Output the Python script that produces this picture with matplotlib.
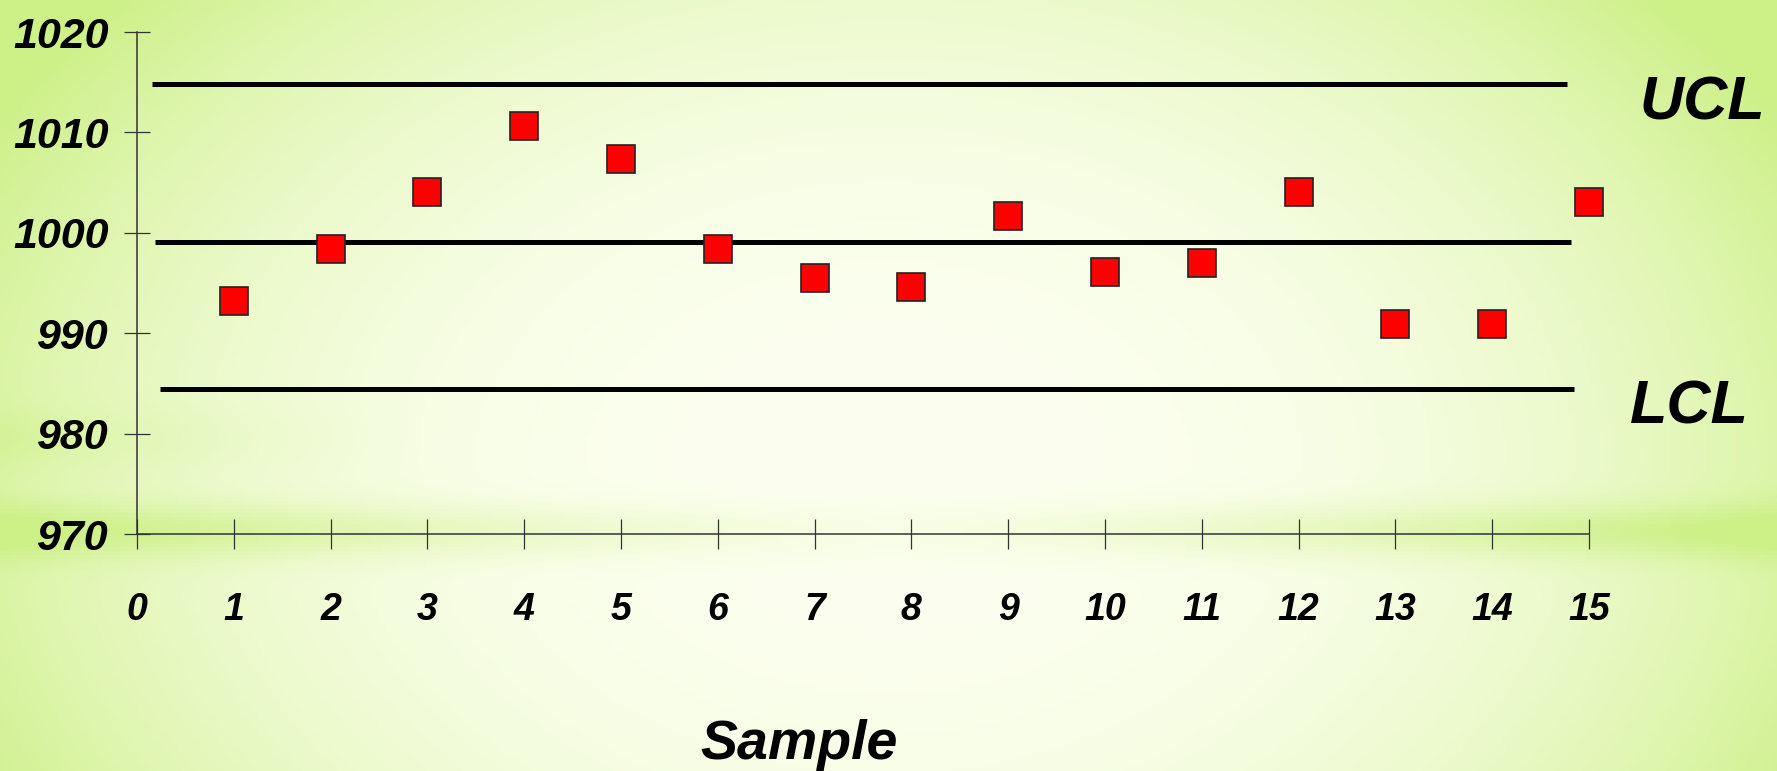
import matplotlib
matplotlib.use("Agg")
import matplotlib.pyplot as plt
import numpy as np

# sample means
samples = np.arange(1, 16)
means = [993.2, 998.4, 1004.1, 1010.6, 1007.4, 998.4, 995.5, 994.6,
         1001.7, 996.1, 997.0, 1004.1, 990.9, 990.9, 1003.1]
# control limits
ucl = 1014.8
cl = 999.1
lcl = 984.4
xticks = list(range(0, 16))
yticks = [970, 980, 990, 1000, 1010, 1020]

plt.rcParams['font.family'] = ['Liberation Sans', 'DejaVu Sans']
plt.rcParams['font.weight'] = 'bold'
plt.rcParams['font.style'] = 'italic'

W, H = 1777, 771
fig = plt.figure(figsize=(W / 100, H / 100), dpi=100)

# soft green / white background gradient
bg = fig.add_axes([0, 0, 1, 1])
xx, yy = np.meshgrid(np.linspace(0, 1, 400), np.linspace(0, 1, 200))
r = ((xx - 0.5) / 0.58) ** 2 + ((yy - 0.62) / 0.95) ** 2
w = np.clip(r, 0, 1) ** 1.3
band = 0.45 * np.exp(-((yy - 0.69) / 0.035) ** 2) * np.clip(np.abs(xx - 0.5) * 2.2 + 0.2, 0, 1)
band += 0.25 * np.exp(-((yy - 0.57) / 0.04) ** 2) * np.clip(0.6 - xx * 2.5, 0, 1)
w = np.clip(w + band, 0, 1)
white = np.array([252, 255, 240]) / 255
green = np.array([205, 240, 135]) / 255
img = white[None, None, :] * (1 - w[..., None]) + green[None, None, :] * w[..., None]
bg.imshow(img, aspect='auto', extent=[0, 1, 0, 1], origin='upper')
bg.axis('off')

ax = fig.add_axes([137 / W, (H - 534) / H, (1589 - 137) / W, (534 - 32) / H])
ax.patch.set_alpha(0)
ax.set_xlim(0, 15)
ax.set_ylim(970, 1020)

ax.plot([0.15, 14.77], [ucl, ucl], color='black', lw=3.6, solid_capstyle='butt')
ax.plot([0.19, 14.81], [cl, cl], color='black', lw=3.6, solid_capstyle='butt')
ax.plot([0.24, 14.85], [lcl, lcl], color='black', lw=3.6, solid_capstyle='butt')

ax.plot(samples, means, 's', color='#ff0000', markeredgecolor='#222222',
        markeredgewidth=1.2, markersize=20.5, clip_on=False, zorder=5)

for s in ['top', 'right']:
    ax.spines[s].set_visible(False)
for s in ['left', 'bottom']:
    ax.spines[s].set_color('#333333')
    ax.spines[s].set_linewidth(1.1)

ax.set_xticks(xticks)
ax.set_yticks(yticks)
ax.tick_params(axis='y', direction='inout', length=19, width=0.9, color='#333333',
               labelsize=31, pad=11)
ax.tick_params(axis='x', direction='inout', length=22, width=0.9, color='#333333',
               labelsize=27, pad=31)

ax.text(1.035, (1012.8 - 970) / 50, 'UCL', transform=ax.transAxes, fontsize=44,
        ha='left', va='center')
ax.text(1.028, (982.5 - 970) / 50, 'LCL', transform=ax.transAxes, fontsize=44,
        ha='left', va='center')
fig.text(799 / W, (H - 759) / H, 'Sample', fontsize=40, fontweight='bold',
         fontstyle='italic', ha='center', va='baseline')

fig.savefig('out.png', dpi=100)
